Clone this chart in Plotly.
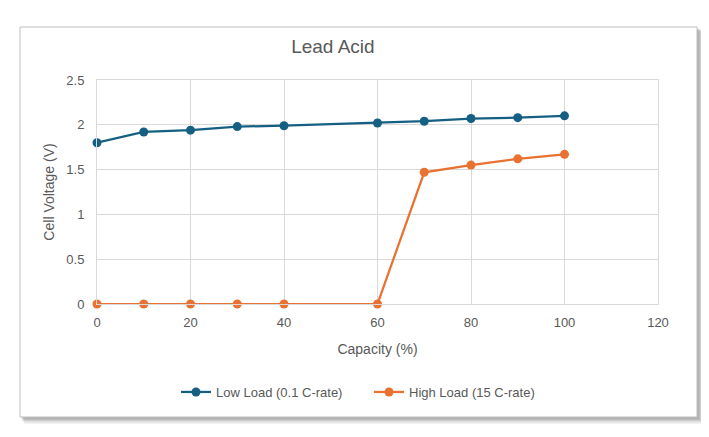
import plotly.graph_objects as go

capacity = [0, 10, 20, 30, 40, 60, 70, 80, 90, 100]
low_load = [1.80, 1.92, 1.94, 1.98, 1.99, 2.02, 2.04, 2.07, 2.08, 2.10]
high_load = [0, 0, 0, 0, 0, 0, 1.47, 1.55, 1.62, 1.67]
series_names = ["Low Load (0.1 C-rate)", "High Load (15 C-rate)"]

# page has an 8px body margin; work in screen coords and shift
OFF = 8
W, H = 709 - OFF, 437 - OFF
L, R, T, B = 97 - OFF, 658 - OFF, 80 - OFF, 304 - OFF

def px(x):
    return (x - OFF - L) / (R - L)

def py(y):
    return (B - (y - OFF)) / (B - T)

FONT = "Liberation Sans, Arial, sans-serif"
GREY = "#595959"

fig = go.Figure()
fig.add_trace(go.Scatter(x=capacity, y=low_load, name=series_names[0], mode="lines+markers",
                         line=dict(color="#156082", width=2.25),
                         marker=dict(color="#156082", size=9), cliponaxis=False))
fig.add_trace(go.Scatter(x=capacity, y=high_load, name=series_names[1], mode="lines+markers",
                         line=dict(color="#E97132", width=2.25),
                         marker=dict(color="#E97132", size=9), cliponaxis=False))

shapes = []
# soft shadow
for i, op in enumerate([0.05, 0.07, 0.09, 0.12]):
    off = 7 - i * 1.5
    shapes.append(dict(type="rect", xref="paper", yref="paper", layer="below",
                       x0=px(20 + off * 0.6), x1=px(697 + off), y0=py(417 + off), y1=py(27 + off * 0.6),
                       fillcolor=f"rgba(0,0,0,{op})", line=dict(width=0)))
shapes.append(dict(type="rect", xref="paper", yref="paper", layer="below",
                   x0=px(20), x1=px(697), y0=py(417), y1=py(27),
                   fillcolor="white", line=dict(color="#bfbfbf", width=1)))

fig.update_layout(
    width=W, height=H,
    margin=dict(l=L, r=W - R, t=T, b=H - B),
    paper_bgcolor="white", plot_bgcolor="rgba(0,0,0,0)",
    font=dict(family=FONT, color=GREY, size=13),
    title=dict(text="Lead Acid", x=px(357), xanchor="center", y=1 - (46 - OFF) / H, yanchor="middle",
               font=dict(size=19, color=GREY, family=FONT)),
    xaxis=dict(range=[0, 120], tickvals=[0, 20, 40, 60, 80, 100, 120], showgrid=True,
               gridcolor="#d9d9d9", gridwidth=1, zeroline=False, showline=True, mirror=True,
               linecolor="#d9d9d9", ticks="", ticklabelstandoff=6, tickfont=dict(size=13, color=GREY),
               title=dict(text="Capacity (%)", font=dict(size=14, color=GREY), standoff=15)),
    yaxis=dict(range=[0, 2.5], tickvals=[0, 0.5, 1, 1.5, 2, 2.5], ticktext=["0", "0.5", "1", "1.5", "2", "2.5"],
               showgrid=True, gridcolor="#d9d9d9", gridwidth=1, zeroline=False, showline=True, mirror=True,
               linecolor="#d9d9d9", ticks="", ticklabelstandoff=9, tickfont=dict(size=13, color=GREY),
               title=dict(text="Cell Voltage (V)", font=dict(size=14, color=GREY), standoff=8)),
    legend=dict(orientation="h", x=px(369), xanchor="center", y=py(392), yanchor="middle",
                font=dict(size=13, color=GREY), bgcolor="rgba(0,0,0,0)",
                entrywidth=148, entrywidthmode="pixels"),
    shapes=shapes,
)

fig.write_html("out.html")
